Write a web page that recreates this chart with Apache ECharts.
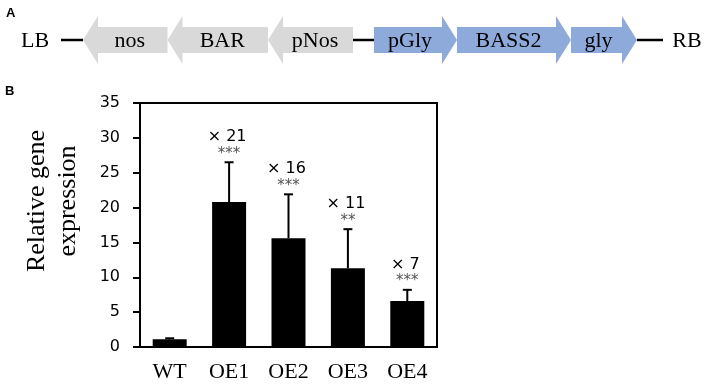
<!DOCTYPE html>
<html>
<head>
<meta charset="utf-8">
<script src="https://cdn.jsdelivr.net/npm/echarts@6/dist/echarts.min.js"></script>
<style>
  html, body { margin: 0; padding: 0; background: #fff; }
  #main { width: 711px; height: 389px; }
</style>
</head>
<body>
<div id="main"></div>
<script>
  // panel B: expression data
  var categories = ['WT', 'OE1', 'OE2', 'OE3', 'OE4'];
  var expression = [1.1, 20.8, 15.6, 11.3, 6.6];
  var errorUp = [0.15, 5.7, 6.3, 5.6, 1.6];
  var foldLabels = ['', '× 21', '× 16', '× 11', '× 7'];
  var starLabels = ['', '***', '***', '**', '***'];

  // panel A: construct map (extent along the T-DNA, dir -1 = reverse)
  var partNames = ['nos', 'BAR', 'pNos', 'pGly', 'BASS2', 'gly'];
  var partStart = [83, 167.5, 268, 374, 457, 571];
  var partEnd = [167.5, 268, 353, 457, 571, 637];
  var partDir = [-1, -1, -1, 1, 1, 1];
  var linkers = [[61, 83], [353, 374], [637, 663]];
  var borderNames = ['LB', 'RB'];
  var borderPos = [35, 687];

  var serif = '"Liberation Serif", "Times New Roman", serif';
  var sans = '"DejaVu Sans", Verdana, sans-serif';

  var chartDom = document.getElementById('main');
  var myChart = echarts.init(chartDom, null, {renderer: 'canvas'});
  var option;

  function renderPart(params, api) {
    var i = params.dataIndex;
    var s = api.coord([api.value(0), 40]);
    var e = api.coord([api.value(1), 40]);
    var dir = api.value(2);
    var y = s[1], head = 15, bh = 13, hh = 24;
    var pts, tx;
    if (dir > 0) {
      pts = [[s[0], y - bh], [e[0] - head, y - bh], [e[0] - head, y - hh], [e[0], y],
        [e[0] - head, y + hh], [e[0] - head, y + bh], [s[0], y + bh]];
      tx = (s[0] + e[0] - head) / 2 + 2;
    } else {
      pts = [[s[0], y], [s[0] + head, y - hh], [s[0] + head, y - bh], [e[0], y - bh],
        [e[0], y + bh], [s[0] + head, y + bh], [s[0] + head, y + hh]];
      tx = (s[0] + head + e[0]) / 2 - 3;
    }
    return {
      type: 'group',
      children: [
        {type: 'polygon', shape: {points: pts}, style: {fill: dir > 0 ? '#8eaadb' : '#d9d9d9'}},
        {type: 'text', x: tx, y: y + 1, style: {
          text: partNames[i], font: '22px ' + serif, fill: '#000',
          align: 'center', verticalAlign: 'middle'}}
      ]
    };
  }

  function renderLinker(params, api) {
    var s = api.coord([api.value(0), 40]);
    var e = api.coord([api.value(1), 40]);
    return {type: 'line', shape: {x1: s[0], y1: s[1], x2: e[0], y2: e[1]},
      style: {stroke: '#000', lineWidth: 2.5}};
  }

  function renderBorder(params, api) {
    var p = api.coord([api.value(0), 40]);
    return {type: 'text', x: p[0], y: p[1] + 1, style: {
      text: borderNames[params.dataIndex], font: '22px ' + serif, fill: '#000',
      align: 'center', verticalAlign: 'middle'}};
  }

  function renderError(params, api) {
    var i = params.dataIndex;
    var base = api.coord([api.value(0), api.value(1)]);
    var top = api.coord([api.value(0), api.value(1) + api.value(2)]);
    return {
      type: 'group',
      children: [
        {type: 'line', shape: {x1: base[0], y1: base[1], x2: top[0], y2: top[1]},
          style: {stroke: '#000', lineWidth: 2}},
        {type: 'line', shape: {x1: top[0] - 4.5, y1: top[1], x2: top[0] + 4.5, y2: top[1]},
          style: {stroke: '#000', lineWidth: 2}},
        {type: 'text', x: top[0], y: top[1] - 1, style: {
          text: starLabels[i], font: '15px ' + sans, fill: '#555',
          align: 'center', verticalAlign: 'bottom'}},
        {type: 'text', x: top[0] - 2, y: top[1] - 25, style: {
          text: foldLabels[i], font: '16px ' + sans, fill: '#000',
          align: 'center', verticalAlign: 'middle'}}
      ]
    };
  }

  option = {
    animation: false,
    backgroundColor: '#fff',
    grid: [
      {left: 0, right: 0, top: 0, height: 80},
      {left: 140, right: 274, top: 103, bottom: 42, show: true, borderColor: '#000', borderWidth: 2}
    ],
    xAxis: [
      {gridIndex: 0, type: 'value', min: 0, max: 711, show: false},
      {
        gridIndex: 1, type: 'category', data: categories,
        axisLine: {lineStyle: {color: '#000', width: 2}},
        axisTick: {length: 7, lineStyle: {color: '#000', width: 2}},
        axisLabel: {color: '#000', fontFamily: serif, fontSize: 22, margin: 14}
      }
    ],
    yAxis: [
      {gridIndex: 0, type: 'value', min: 0, max: 80, inverse: true, show: false},
      {
        gridIndex: 1, type: 'value', min: 0, max: 35, interval: 5,
        axisLine: {show: true, lineStyle: {color: '#000', width: 2}},
        axisTick: {show: true, length: 7, lineStyle: {color: '#000', width: 2}},
        splitLine: {show: false},
        axisLabel: {color: '#000', fontFamily: sans, fontSize: 16, margin: 20}
      }
    ],
    graphic: [
      {type: 'text', left: 6, top: 7, style: {text: 'A', font: 'bold 13px "Liberation Sans", Arial, sans-serif', fill: '#000'}},
      {type: 'text', left: 5, top: 85, style: {text: 'B', font: 'bold 13px "Liberation Sans", Arial, sans-serif', fill: '#000'}},
      {
        type: 'text', x: 53, y: 201, rotation: Math.PI / 2,
        style: {
          text: 'Relative gene\nexpression', font: '26px ' + serif, fill: '#000',
          align: 'center', verticalAlign: 'middle', lineHeight: 31
        }
      }
    ],
    series: [
      {
        type: 'custom', xAxisIndex: 0, yAxisIndex: 0, silent: true,
        renderItem: renderLinker,
        data: linkers
      },
      {
        type: 'custom', xAxisIndex: 0, yAxisIndex: 0, silent: true,
        renderItem: renderPart,
        data: partNames.map(function (n, i) { return [partStart[i], partEnd[i], partDir[i]]; })
      },
      {
        type: 'custom', xAxisIndex: 0, yAxisIndex: 0, silent: true,
        renderItem: renderBorder,
        data: borderPos.map(function (p) { return [p]; })
      },
      {
        type: 'bar', xAxisIndex: 1, yAxisIndex: 1, barWidth: 34,
        itemStyle: {color: '#000'},
        data: expression
      },
      {
        type: 'custom', xAxisIndex: 1, yAxisIndex: 1, z: 5, silent: true,
        renderItem: renderError,
        data: categories.map(function (c, i) { return [i, expression[i], errorUp[i]]; })
      }
    ]
  };

  option && myChart.setOption(option);
</script>
</body>
</html>
